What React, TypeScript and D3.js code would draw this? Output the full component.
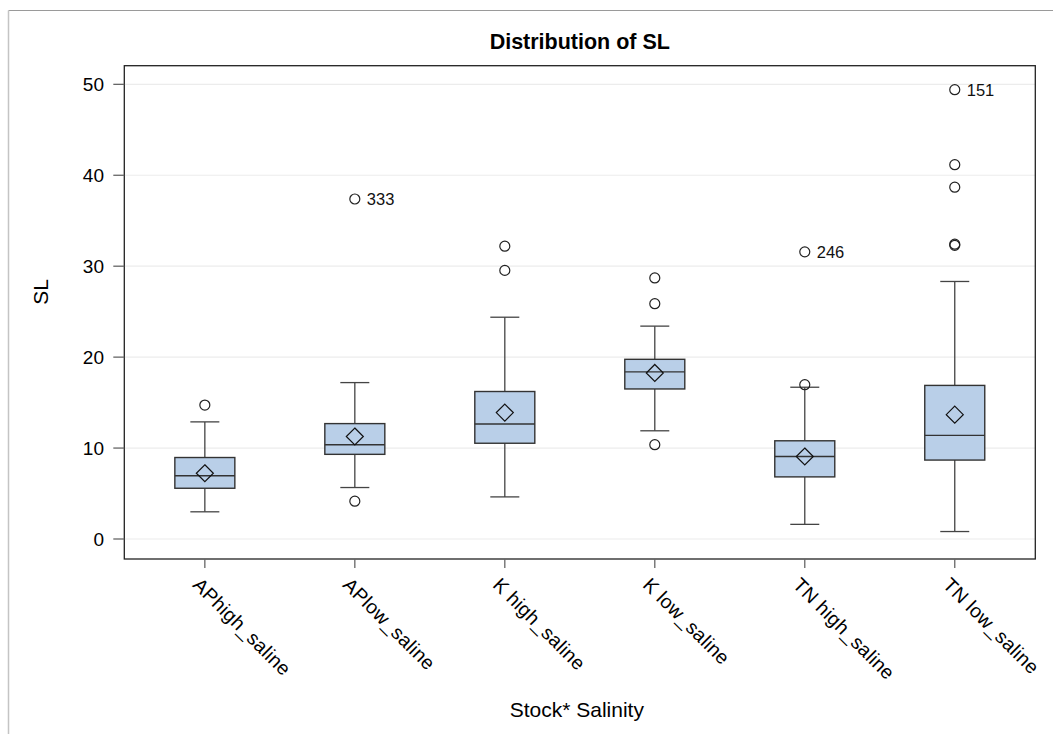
import React from "react";
import * as d3 from "d3";

const categories = ["APhigh_saline", "APlow_saline", "K high_saline", "K low_saline", "TN high_saline", "TN low_saline"];
const q1 = [5.58, 9.31, 10.53, 16.5, 6.83, 8.68];
const medians = [6.95, 10.37, 12.65, 18.38, 9.07, 11.39];
const q3 = [8.96, 12.69, 16.22, 19.76, 10.8, 16.89];
const means = [7.23, 11.27, 13.9, 18.26, 9.07, 13.67];
const whiskerLow = [2.99, 5.66, 4.63, 11.9, 1.61, 0.82];
const whiskerHigh = [12.88, 17.2, 24.39, 23.41, 16.69, 28.32];
const outliers: { cat: number; value: number; label?: string }[] = [
  { cat: 0, value: 14.73 },
  { cat: 1, value: 4.16 },
  { cat: 1, value: 37.39, label: "333" },
  { cat: 2, value: 32.2 },
  { cat: 2, value: 29.54 },
  { cat: 3, value: 28.71 },
  { cat: 3, value: 25.88 },
  { cat: 3, value: 10.37 },
  { cat: 4, value: 16.97 },
  { cat: 4, value: 31.58, label: "246" },
  { cat: 5, value: 49.41, label: "151" },
  { cat: 5, value: 41.16 },
  { cat: 5, value: 38.69 },
  { cat: 5, value: 32.3 },
  { cat: 5, value: 32.42 },
];
const yTicks = [0, 10, 20, 30, 40, 50];

const W = 1053;
const H = 734;
const left = 124.3;
const right = 1035.3;
const top = 65.7;
const bottom = 559;
const FONT = "'Liberation Sans', Arial, sans-serif";

export default function App() {
  const x = d3.scalePoint<string>().domain(categories).range([left, right]).padding(0.537);
  const y = d3.scaleLinear().domain([-2.2, 52.05]).range([bottom, top]);
  const boxW = 60;
  const capW = 29;
  const dR = 8.5;

  return (
    <svg width={W} height={H} style={{ position: "absolute", left: 0, top: 0, background: "#fff" }}>
      <rect x={0} y={0} width={W} height={H} fill="#fff" />
      {/* outer page border */}
      <line x1={8.5} x2={W} y1={10.5} y2={10.5} stroke="#9a9a9a" />
      <line x1={8.5} x2={8.5} y1={10.5} y2={H} stroke="#c4c4c4" strokeWidth={1.5} />

      <text x={(left + right) / 2} y={48.5} textAnchor="middle" fontFamily={FONT} fontWeight="bold" fontSize={21.5} fill="#000">
        Distribution of SL
      </text>

      {/* gridlines */}
      {yTicks.map((t) => (
        <line key={"g" + t} x1={left} x2={right} y1={y(t)} y2={y(t)} stroke="#ececec" strokeWidth={1.2} />
      ))}

      {/* boxes */}
      {categories.map((c, i) => {
        const cx = x(c)!;
        return (
          <g key={c}>
            <line x1={cx} x2={cx} y1={y(q3[i])} y2={y(whiskerHigh[i])} stroke="#444" strokeWidth={1.3} />
            <line x1={cx} x2={cx} y1={y(q1[i])} y2={y(whiskerLow[i])} stroke="#444" strokeWidth={1.3} />
            <line x1={cx - capW / 2} x2={cx + capW / 2} y1={y(whiskerHigh[i])} y2={y(whiskerHigh[i])} stroke="#444" strokeWidth={1.3} />
            <line x1={cx - capW / 2} x2={cx + capW / 2} y1={y(whiskerLow[i])} y2={y(whiskerLow[i])} stroke="#444" strokeWidth={1.3} />
            <rect x={cx - boxW / 2} y={y(q3[i])} width={boxW} height={y(q1[i]) - y(q3[i])} fill="#b9cfe8" stroke="#333" strokeWidth={1.4} />
            <line x1={cx - boxW / 2} x2={cx + boxW / 2} y1={y(medians[i])} y2={y(medians[i])} stroke="#333" strokeWidth={1.4} />
            <path
              d={`M${cx},${y(means[i]) - dR}L${cx + dR},${y(means[i])}L${cx},${y(means[i]) + dR}L${cx - dR},${y(means[i])}Z`}
              fill="none"
              stroke="#111"
              strokeWidth={1.2}
            />
          </g>
        );
      })}

      {/* outliers */}
      {outliers.map((o, k) => {
        const cx = x(categories[o.cat])!;
        const cy = y(o.value);
        return (
          <g key={"o" + k}>
            <circle cx={cx} cy={cy} r={5} fill="none" stroke="#222" strokeWidth={1.2} />
            {o.label && (
              <text x={cx + 12} y={cy} dy="0.36em" fontFamily={FONT} fontSize={16.5} fill="#111">
                {o.label}
              </text>
            )}
          </g>
        );
      })}

      {/* frame */}
      <rect x={left} y={top} width={right - left} height={bottom - top} fill="none" stroke="#222" strokeWidth={1.3} />

      {/* y axis */}
      {yTicks.map((t) => (
        <g key={"yt" + t}>
          <line x1={left - 11} x2={left} y1={y(t)} y2={y(t)} stroke="#666" strokeWidth={1.3} />
          <text x={104} y={y(t)} dy="0.36em" textAnchor="end" fontFamily={FONT} fontSize={19} fill="#000">
            {t}
          </text>
        </g>
      ))}
      <text transform={`translate(48,292) rotate(-90)`} textAnchor="middle" fontFamily={FONT} fontSize={21} fill="#000">
        SL
      </text>

      {/* x axis */}
      {categories.map((c) => {
        const cx = x(c)!;
        return (
          <g key={"xt" + c}>
            <line x1={cx} x2={cx} y1={bottom} y2={bottom + 9} stroke="#666" strokeWidth={1.3} />
            <text transform={`translate(${cx - 13},${bottom + 27}) rotate(45)`} textAnchor="start" fontFamily={FONT} fontSize={19.5} letterSpacing={0.3} fill="#000">
              {c}
            </text>
          </g>
        );
      })}
      <text x={(left + right) / 2 - 3} y={716.5} textAnchor="middle" fontFamily={FONT} fontSize={21} fill="#000">
        Stock* Salinity
      </text>
    </svg>
  );
}
